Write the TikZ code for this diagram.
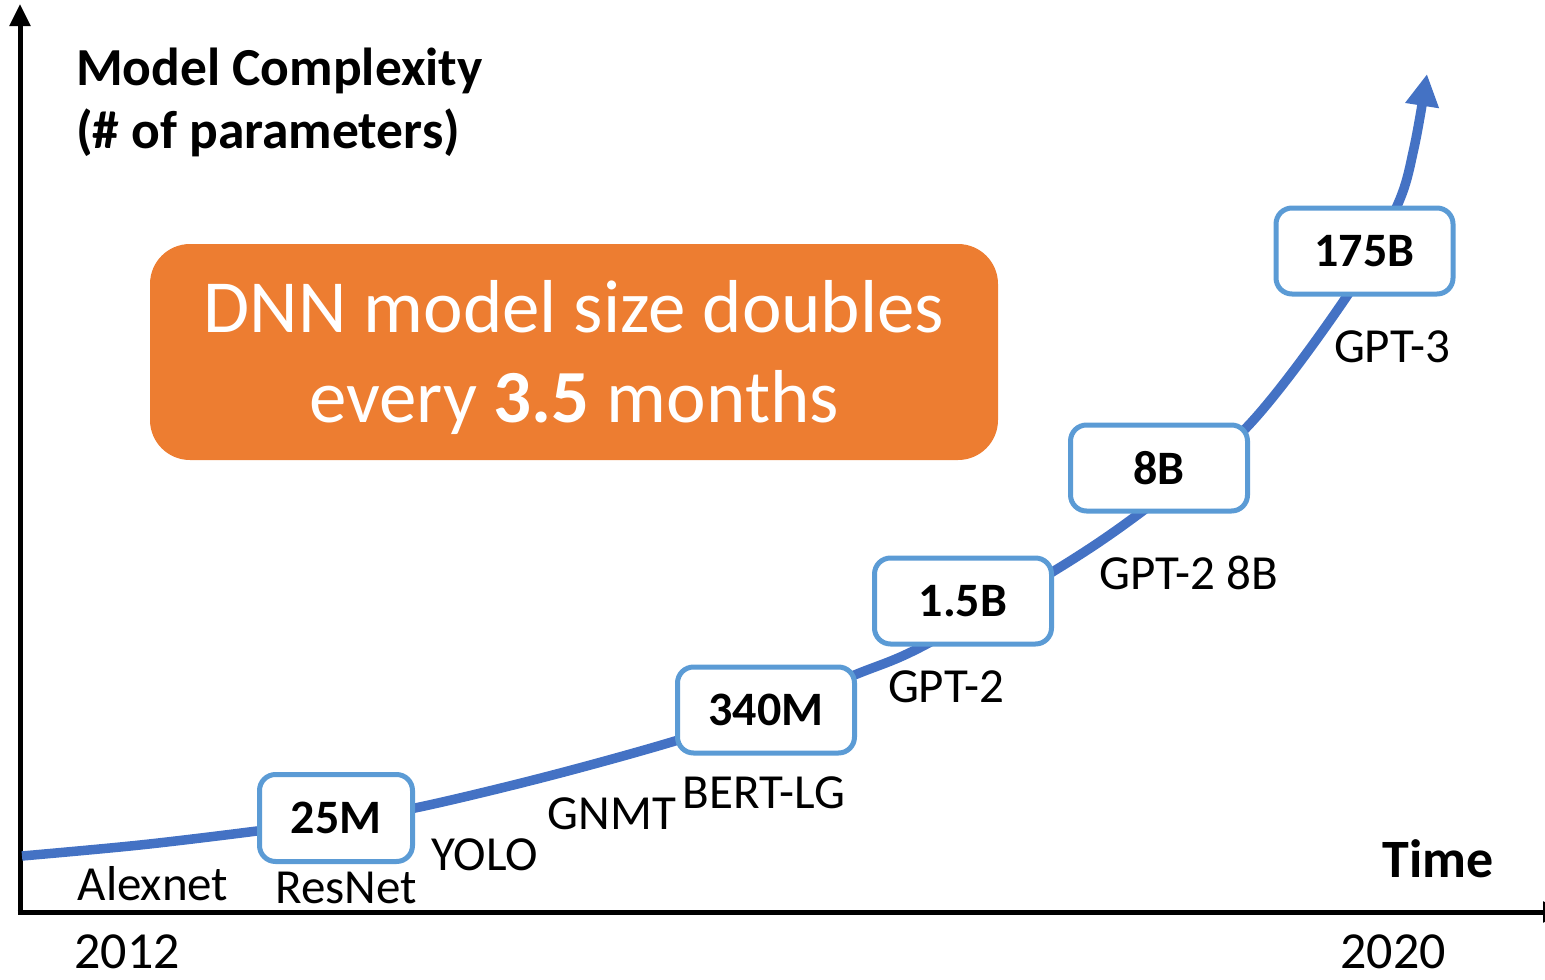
\documentclass[tikz,border=0pt]{standalone}
\usepackage{fontspec}
\setmainfont{Carlito}
\usetikzlibrary{arrows.meta}
\definecolor{curveblue}{HTML}{4472C4}
\definecolor{boxblue}{HTML}{5B9BD5}
\definecolor{orangebox}{HTML}{ED7D31}
\begin{document}
\begin{tikzpicture}[x=1pt,y=-1pt,
  axisline/.style={line width=5pt,black},
  growth/.style={line width=9.5pt,curveblue},
  valbox/.style={draw=boxblue,line width=5pt,fill=white,rounded corners=16pt,
    minimum width=177pt,minimum height=86pt,inner sep=0pt,
    font=\fontsize{48}{50}\selectfont\bfseries},
  lbl/.style={anchor=base,inner sep=0pt,font=\fontsize{49}{52}\selectfont},
  yearlbl/.style={anchor=base,inner sep=0pt,font=\fontsize{52}{56}\selectfont},
  titlelbl/.style={anchor=base west,inner sep=0pt,font=\fontsize{53.5}{60}\selectfont\bfseries},
  msgbox/.style={fill=orangebox,rounded corners=40pt,minimum width=848pt,minimum height=216pt,inner sep=0pt},
  msgtext/.style={anchor=base,inner sep=0pt,text=white,font=\fontsize{75}{90}\selectfont}
]
\useasboundingbox (0,0) rectangle (1545,980);
% axes
\coordinate (origin) at (20,912);
\coordinate (ytip) at (20,4);
\coordinate (xtip) at (1565,912);
\draw[axisline,-{Triangle[length=22pt,width=20pt]}] ([yshift=-2.5pt]origin) -- (ytip);
\draw[axisline,-{Triangle[length=22pt,width=20pt]}] ([xshift=-2.5pt]origin) -- (xtip);
% axis labels
\node[titlelbl] (ylab1) at (76,85) {Model Complexity};
\node[titlelbl] (ylab2) at (76,148) {(\# of parameters)};
\node[anchor=base,inner sep=0pt,font=\fontsize{54}{60}\selectfont\bfseries] (xlab) at (1438,877) {Time};
\node[yearlbl] (y2012) at (127,968) {2012};
\node[yearlbl] (y2020) at (1393,968) {2020};
% message box
\node[msgbox] (msg) at (574,352) {};
\node[msgtext] (msg1) at (574,332) {DNN model size doubles};
\node[msgtext] (msg2) at (574,422) {every \textbf{3.5} months};
% growth curve
\draw[growth,-{Triangle[length=32pt,width=32pt]}] plot[smooth,tension=0.55] coordinates {
  (22,856) (140,845) (257,831) (336,820) (415,808) (545,777) (675,741) (766,710)
  (857,674) (923,646) (1054,571) (1140,513) (1247,427) (1347,296) (1397,206)
  (1414,148) (1427,74)};
% value boxes
\node[valbox,minimum width=153pt,minimum height=87pt] (b25) at (336,818) {25M};
\node[valbox] (b340) at (766,710) {340M};
\node[valbox] (b15) at (963,601) {1.5B};
\node[valbox] (b8) at (1159,468) {8B};
\node[valbox] (b175) at (1364.5,251) {175B};
% model labels
\node[lbl] (alex) at (153,900) {Alexnet};
\node[lbl] (resnet) at (346,903) {ResNet};
\node[lbl] (yolo) at (485,870) {YOLO};
\node[lbl] (gnmt) at (612,829) {GNMT};
\node[lbl] (bert) at (764,808) {BERT-LG};
\node[lbl] (gpt2) at (946,702) {GPT-2};
\node[lbl] (gpt28) at (1189,589) {GPT-2 8B};
\node[lbl] (gpt3) at (1392,362) {GPT-3};
\end{tikzpicture}
\end{document}
